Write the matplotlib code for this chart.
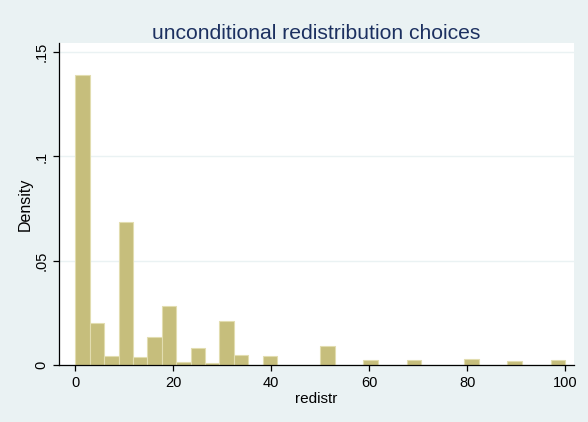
import matplotlib
matplotlib.use("Agg")
import matplotlib.pyplot as plt
import numpy as np

plt.rcParams['font.family'] = ['Liberation Sans', 'DejaVu Sans']

# Histogram: 34 bins of width 100/34 from 0 to 100
n_bins = 34
bin_edges = np.linspace(0, 100, n_bins + 1)
density = [0.139, 0.0200, 0.0045, 0.0687, 0.0037, 0.0134, 0.0284, 0.0014,
           0.0081, 0.0010, 0.0212, 0.0046, 0.0, 0.0042, 0.0, 0.0, 0.0,
           0.0090, 0.0, 0.0, 0.0024, 0.0, 0.0, 0.0023, 0.0, 0.0, 0.0,
           0.0030, 0.0, 0.0, 0.0019, 0.0, 0.0, 0.0024]
x_ticks = [0, 20, 40, 60, 80, 100]
y_ticks = [0, 0.05, 0.1, 0.15]
y_tick_labels = ['0', '.05', '.1', '.15']

bg = '#EAF2F3'
fig = plt.figure(figsize=(5.88, 4.22), dpi=100, facecolor=bg)
ax = fig.add_axes([59/588, 1 - 365/422, (574-59)/588, (365-43)/422])
ax.set_facecolor('white')

ax.bar(bin_edges[:-1], density, width=np.diff(bin_edges), align='edge',
       color='#C6BE7C', edgecolor='#E2DDB0', linewidth=0.8, zorder=2)

ax.set_xlim(-3.37, 101.84)
ax.set_ylim(0, 0.1544)
ax.set_xticks(x_ticks)
ax.set_yticks(y_ticks)
ax.set_yticklabels(y_tick_labels, rotation=90, va='center')
ax.yaxis.grid(True, color='#EAF2F3', linewidth=1.0, zorder=0)
ax.set_axisbelow(True)

for s in ['top', 'right']:
    ax.spines[s].set_visible(False)
for s in ['left', 'bottom']:
    ax.spines[s].set_color('black')
    ax.spines[s].set_linewidth(0.9)
ax.tick_params(direction='out', length=4.3, width=0.9, colors='black',
               labelsize=10.5)
ax.tick_params(axis='y', pad=3.5)
ax.tick_params(axis='x', pad=3.5)

ax.set_xlabel('redistr', fontsize=11, labelpad=1.5)
ax.set_ylabel('Density', fontsize=11.5, labelpad=1)
ax.set_title('unconditional redistribution choices', fontsize=15.2,
             color='#1C3060', pad=2.5)

fig.savefig('out.png', dpi=100, facecolor=bg)
